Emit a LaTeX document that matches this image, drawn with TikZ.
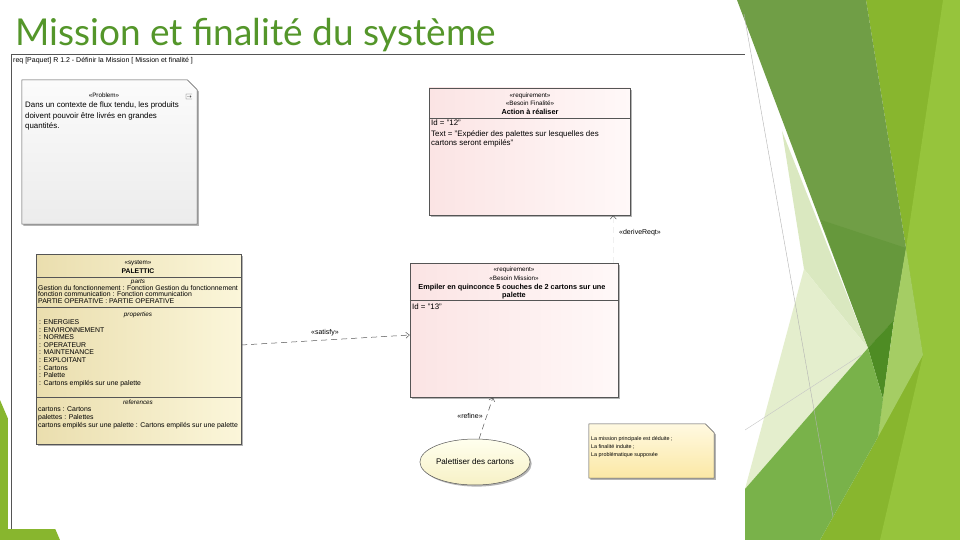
\documentclass[tikz,border=0pt]{standalone}
\usepackage{fontspec}
\setmainfont{Liberation Sans}
\newfontfamily\titlefont{Lato}
\usetikzlibrary{shapes.geometric, arrows.meta, shadows, calc}
\definecolor{titlegreen}{RGB}{84,150,42}
\definecolor{gMuted}{RGB}{112,158,70}
\definecolor{gMutedDk}{RGB}{102,152,60}
\definecolor{gDark}{RGB}{78,140,36}
\definecolor{gLimeDk}{RGB}{136,182,46}
\definecolor{gLimeLt}{RGB}{150,196,60}
\definecolor{gPale}{RGB}{218,232,192}
\definecolor{gPaleLt}{RGB}{228,238,205}
\definecolor{gMed}{RGB}{121,178,74}
\definecolor{gStripe}{RGB}{165,205,100}
\definecolor{reqA}{RGB}{251,228,228}
\definecolor{reqB}{RGB}{255,248,248}
\definecolor{blkA}{RGB}{234,222,174}
\definecolor{blkB}{RGB}{251,246,218}
\definecolor{noteA}{RGB}{251,232,165}
\definecolor{noteB}{RGB}{255,249,225}
\definecolor{ucA}{RGB}{255,255,238}
\definecolor{ucB}{RGB}{247,241,198}
\definecolor{edge}{RGB}{85,85,85}
\begin{document}
\begin{tikzpicture}[x=1pt,y=-1pt,
  shad/.style={drop shadow={shadow xshift=1.6pt, shadow yshift=-1.6pt, fill=gray!65, opacity=0.9}},
  boxline/.style={draw=edge, line width=0.5pt},
  tl/.style={inner sep=0, anchor=base west, font=\fontsize{7.9}{8}\selectfont},
  tc/.style={inner sep=0, anchor=base, font=\fontsize{7.9}{8}\selectfont},
  bc/.style={inner sep=0, anchor=base, font=\bfseries\fontsize{7.3}{8}\selectfont},
  sl/.style={inner sep=0, anchor=base west, font=\fontsize{6.9}{7}\selectfont},
  sc/.style={inner sep=0, anchor=base, font=\fontsize{6.3}{7}\selectfont},
  nl/.style={inner sep=0, anchor=base west, font=\fontsize{5.4}{6}\selectfont},
  lab/.style={inner sep=0, font=\fontsize{7}{7}\selectfont},
  dep/.style={draw=edge, line width=0.5pt, dash pattern=on 6pt off 4pt, -{Straight Barb[length=3.5pt,width=6pt]}}
]
\useasboundingbox (0,0) rectangle (960,540);
\fill[white] (0,0) rectangle (960,540);

% --- green facets on the right
\fill[gLimeDk] (866,0) -- (960,0) -- (960,540) -- (820,540) -- (878,437) -- (883,399) -- (906,248) -- cycle;
\fill[gLimeLt] (943,0) -- (960,0) -- (960,540) -- (880,540) -- (923,355) -- (906,248) -- cycle;
\fill[gMuted] (737,0) -- (866,0) -- (906,248) -- (894,320) -- (868,348) -- cycle;
\fill[gMutedDk] (821,220) -- (906,248) -- (894,320) -- (868,348) -- cycle;
\fill[gDark] (868,348) -- (894,320) -- (883,399) -- cycle;
\fill[gStripe] (906,248) -- (923,355) -- (878,437) -- (883,399) -- (894,320) -- cycle;
\fill[gPale] (782,131) -- (868,348) -- (804,269) -- cycle;
\fill[gPaleLt] (804,269) -- (868,348) -- (745,489) -- cycle;
\fill[gMed] (868,348) -- (883,399) -- (878,437) -- (820,540) -- (745,540) -- (745,489) -- cycle;
\fill[gLimeDk] (0,400) -- (60,540) -- (0,540) -- cycle;
\draw[gray!60, line width=0.4pt] (744,14) -- (833,517);
\draw[gray!45, line width=0.4pt] (745,430) -- (861,355);

% --- screenshot area
\fill[white] (8,50) rectangle (745,529);
\draw[edge, line width=0.6pt] (11,529) -- (11,54) -- (745,54);
\node[inner sep=0, anchor=base west, font=\fontsize{7}{7}\selectfont] (hdr) at (13,63)
  {req [Paquet] R 1.2 - Définir la Mission [ Mission et finalité ]};

% --- title
\node[inner sep=0, anchor=base west, text=titlegreen, font=\titlefont\fontsize{37}{38}\selectfont] (title) at (15,46)
  {Mission et finalité du système};

% --- Problem note
\node[inner sep=0, minimum width=175pt, minimum height=144pt] (prob) at (109.5,152) {};
\path[shad, boxline, top color=gray!3, bottom color=gray!15]
  (prob.north west) -- ($(prob.north east)+(-10,0)$) -- ($(prob.north east)+(0,10)$)
  -- (prob.south east) -- (prob.south west) -- cycle;
\draw[edge, line width=0.4pt] (192,94) -- (186,94) -- (186,99) -- (192,99) (187,96.5) -- (191,96.5) (190,95.5) -- (191,96.5) -- (190,97.5);
\node[sc] (pst) at (104,98) {«Problem»};
\node[tl] (p1) at (25,108) {Dans un contexte de flux tendu, les produits};
\node[tl] (p2) at (25,118.5) {doivent pouvoir être livrés en grandes};
\node[tl] (p3) at (25,129) {quantités.};

% --- Requirement 12
\node[shad, boxline, left color=reqA, right color=reqB, minimum width=201pt, minimum height=127pt, inner sep=0] (r12) at (529.5,151.5) {};
\draw[edge, line width=0.5pt] (r12.west |- 0,118) -- (r12.east |- 0,118);
\node[sc] (r12a) at (530,97.5) {«requirement»};
\node[sc] (r12b) at (530,106) {«Besoin Finalité»};
\node[bc] (r12c) at (530,115) {Action à réaliser};
\node[tl] (r12d) at (431,126) {Id = "12"};
\node[tl] (r12e) at (431,136.5) {Text = "Expédier des palettes sur lesquelles des};
\node[tl] (r12f) at (431,146) {cartons seront empilés"};

% --- System block
\node[shad, boxline, left color=blkA, right color=blkB, minimum width=205pt, minimum height=190pt, inner sep=0] (blk) at (138.5,349) {};
\draw[edge, line width=0.5pt] (blk.west |- 0,277) -- (blk.east |- 0,277);
\draw[edge, line width=0.5pt] (blk.west |- 0,307) -- (blk.east |- 0,307);
\draw[edge, line width=0.5pt] (blk.west |- 0,397) -- (blk.east |- 0,397);
\node[sc] (b1) at (138,264.5) {«system»};
\node[sc, font=\bfseries\fontsize{6.8}{7}\selectfont] (b2) at (138,273) {PALETTIC};
\node[sc, font=\itshape\fontsize{6.3}{7}\selectfont] (b3) at (138,283) {parts};
\node[sl] (b4) at (38,290) {Gestion du fonctionnement : Fonction Gestion du fonctionnement};
\node[sl] (b5) at (38,296.5) {fonction communication : Fonction communication};
\node[sl] (b6) at (38,303.5) {PARTIE OPERATIVE : PARTIE OPERATIVE};
\node[sc, font=\itshape\fontsize{6.3}{7}\selectfont] (b7) at (138,316) {properties};
\foreach \t [count=\i] in {{: ENERGIES},{: ENVIRONNEMENT},{: NORMES},{: OPERATEUR},{: MAINTENANCE},{: EXPLOITANT},{: Cartons},{: Palette},{: Cartons empilés sur une palette}}
  \node[sl] (bp\i) at (39,{324.5+7.6*(\i-1)}) {\t};
\node[sc, font=\itshape\fontsize{6.3}{7}\selectfont] (b8) at (138,404) {references};
\node[sl] (b9) at (38,411.5) {cartons : Cartons};
\node[sl] (b10) at (38,419.5) {palettes : Palettes};
\node[sl] (b11) at (38,427) {cartons empilés sur une palette : Cartons empilés sur une palette};

% --- Requirement 13
\node[shad, boxline, left color=reqA, right color=reqB, minimum width=208pt, minimum height=134pt, inner sep=0] (r13) at (514,330) {};
\draw[edge, line width=0.5pt] (r13.west |- 0,300) -- (r13.east |- 0,300);
\node[sc] (r13a) at (514,271.5) {«requirement»};
\node[sc] (r13b) at (514,280) {«Besoin Mission»};
\node[bc] (r13c) at (512,289) {Empiler en quinconce 5 couches de 2 cartons sur une};
\node[bc] (r13d) at (514,297.5) {palette};
\node[tl] (r13e) at (412,309) {Id = "13"};

% --- Use case
\node[ellipse, shad, boxline, top color=ucA, bottom color=ucB, minimum width=92pt, minimum height=46pt, inner sep=0,
  font=\fontsize{8.1}{8}\selectfont] (uc) at (475,462) {Palettiser des cartons};

% --- Note
\node[inner sep=0, minimum width=125pt, minimum height=54pt] (note) at (651.5,451) {};
\path[shad, boxline, top color=noteB, bottom color=noteA]
  (note.north west) -- ($(note.north east)+(-9,0)$) -- ($(note.north east)+(0,9)$)
  -- (note.south east) -- (note.south west) -- cycle;
\node[nl] (n1) at (591,440) {La mission principale est déduite ;};
\node[nl] (n2) at (591,448) {La finalité induite ;};
\node[nl] (n3) at (591,456) {La problématique supposée};

% --- connectors
\draw[dep] ($(blk.east)+(0,-4)$) -- ($(r13.west)+(0,5)$);
\node[lab, fill=white, inner sep=1pt] (lsat) at (325,333) {«satisfy»};
\draw[dep] (uc.80) -- ($(r13.south)+(-21,0)$);
\node[lab, fill=white, inner sep=1pt] (lref) at (470,416) {«refine»};
\draw[dep, draw=gray!12, -{Straight Barb[length=3.5pt,width=6pt,color=edge]}] ($(r13.north east)+(-5,0)$) -- ($(r12.south east)+(-17,0)$);
\node[lab] (lder) at (640,233) {«deriveReqt»};
\end{tikzpicture}
\end{document}
